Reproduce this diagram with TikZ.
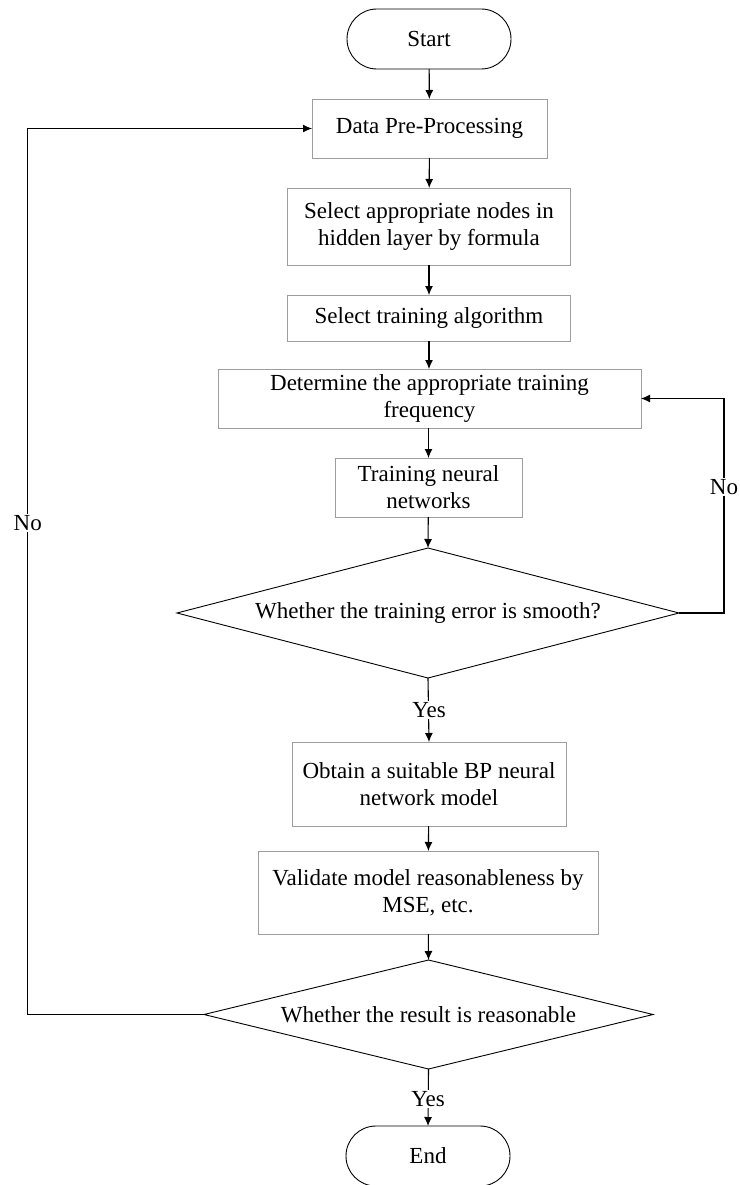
\documentclass[tikz,border=0pt]{standalone}
\usepackage{fontspec}
\setmainfont{Liberation Serif}
\usetikzlibrary{arrows.meta,shapes.geometric}
\begin{document}
\begin{tikzpicture}[x=1pt,y=-1pt,
  every node/.style={font=\fontsize{23}{27}\selectfont, text=black},
  procbox/.style={draw=black!38, line width=0.9pt, rectangle, align=center, inner sep=0pt, outer sep=0pt},
  term/.style={draw=black, line width=0.9pt, rectangle, rounded corners=29.9pt, inner sep=0pt, outer sep=0pt, minimum width=164pt, minimum height=60pt},
  decision/.style={draw=black, line width=0.9pt, diamond, aspect=4, inner sep=0pt, outer sep=0pt, align=center},
  arr/.style={draw=black, line width=1.1pt, -{Latex[length=9pt,width=8pt]}},
  conn/.style={draw=black, line width=1.1pt},
  lbl/.style={fill=white, inner sep=1.5pt}
]
\useasboundingbox (0,0) rectangle (739,1185);

\node[term] (start) at (429,39) {Start};
\node[procbox, minimum width=235pt, minimum height=59pt] (data) at (429.5,128.5) {Data Pre-Processing};
\node[procbox, minimum width=283pt, minimum height=77pt] (sel) at (429,226.5) {Select appropriate nodes in\\hidden layer by formula};
\node[procbox, minimum width=283pt, minimum height=46pt] (alg) at (429,318) {Select training algorithm};
\node[procbox, minimum width=423pt, minimum height=59pt] (det) at (429.5,398.5) {Determine the appropriate training\\frequency};
\node[procbox, minimum width=187pt, minimum height=59pt] (train) at (428.5,487.5) {Training neural\\networks};
\node[decision, minimum width=502pt, minimum height=130pt] (d1) at (428,613) {Whether the training error is smooth?};
\node[procbox, minimum width=274pt, minimum height=84pt] (obt) at (429,784) {Obtain a suitable BP neural\\network model};
\node[procbox, minimum width=340pt, minimum height=83pt] (val) at (428,892.5) {Validate model reasonableness by\\MSE, etc.};
\node[decision, minimum width=449pt, minimum height=109pt] (d2) at (428.5,1014.5) {Whether the result is reasonable};
\node[term] (end) at (428,1156) {End};

\coordinate (rc) at (724,613);
\coordinate (lc) at (27.7,1014.5);

\draw[arr] (start) -- (data);
\draw[arr] (data) -- (sel);
\draw[arr] (sel) -- (alg);
\draw[arr] (alg.south) -- (alg.south |- det.north);
\draw[arr] (det.south -| train.north) -- (train.north);
\draw[arr] (train) -- (d1.north);
\draw[arr] (d1.south) -- (obt.north);
\draw[arr] (obt) -- (val);
\draw[arr] (val) -- (d2.north);
\draw[arr] (d2.south) -- (end.north);

\draw[arr] (d1.east) -- (rc) |- (det.east);
\draw[arr] (d2.west) -- (lc) |- (data.west);

\node[lbl] (yes1) at (429,710) {Yes};
\node[lbl] (yes2) at (428,1099) {Yes};
\node[lbl] (no1) at (724,487) {No};
\node[lbl] (no2) at (27.7,523) {No};
\end{tikzpicture}
\end{document}
